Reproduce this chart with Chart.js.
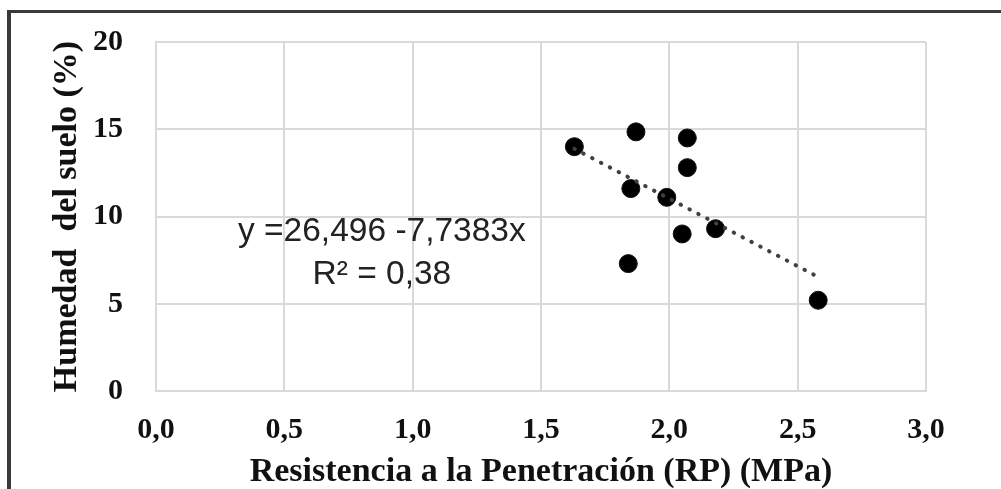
<!DOCTYPE html>
<html>
<head>
<meta charset="utf-8">
<script src="https://cdn.jsdelivr.net/npm/chart.js@4/dist/chart.umd.min.js"></script>
<style>
  html, body { margin: 0; padding: 0; width: 1001px; height: 489px; overflow: hidden; background: #fff; }
  #wrap { position: absolute; left: 0; top: 0; width: 1001px; height: 489px; }
  #frame { position: absolute; left: 7px; top: 10px; width: 2000px; height: 2000px; border: 3px solid #3a3a3a; box-sizing: border-box; border-left-width: 4px; }
  canvas { position: absolute; left: 0; top: 0; }
</style>
</head>
<body>
<div id="wrap">
  <div id="frame"></div>
  <canvas id="c" width="1001" height="489"></canvas>
</div>
<script>
// ---- data ----
const rpValues = [1.63, 1.87, 2.07, 2.07, 1.85, 1.99, 2.05, 2.18, 1.84, 2.58];
const humedadValues = [14.0, 14.85, 14.5, 12.8, 11.6, 11.1, 9.0, 9.3, 7.3, 5.2];
const trendIntercept = 26.496;
const trendSlope = -7.7383;
const xTickValues = [0, 0.5, 1.0, 1.5, 2.0, 2.5, 3.0];
const xTickLabels = ['0,0', '0,5', '1,0', '1,5', '2,0', '2,5', '3,0'];
const yTickValues = [0, 5, 10, 15, 20];
const yTickLabels = ['0', '5', '10', '15', '20'];
const xTitle = 'Resistencia a la Penetración (RP) (MPa)';
const yTitle = 'Humedad  del suelo (%)';
const equationLines = ['y =26,496 -7,7383x', 'R² = 0,38'];
const equationAnchor = [0.88, 9.1];

// trendline endpoints from regression over the data range
const xMin = Math.min(...rpValues), xMax = Math.max(...rpValues);
const trendPoints = [xMin, xMax].map(x => ({ x: x, y: trendIntercept + trendSlope * x }));
const scatterPoints = rpValues.map((x, i) => ({ x: x, y: humedadValues[i] }));

const serif = '"Liberation Serif", "Times New Roman", serif';
const tickFont = { family: serif, size: 30, weight: 'bold', lineHeight: 1.2 };
const titleFont = { family: serif, size: 34, weight: 'bold', lineHeight: 1 };
const gridColor = '#d9d9d9';

const equationPlugin = {
  id: 'equation',
  afterDatasetsDraw(chart) {
    const ctx = chart.ctx;
    const xs = chart.scales.x, ys = chart.scales.y;
    const cx = xs.getPixelForValue(equationAnchor[0]);
    const cy = ys.getPixelForValue(equationAnchor[1]);
    ctx.save();
    ctx.fillStyle = '#222';
    ctx.font = '33.5px "Liberation Sans", Arial, sans-serif';
    ctx.textAlign = 'center';
    ctx.textBaseline = 'middle';
    equationLines.forEach((t, i) => ctx.fillText(t, cx, cy + i * 43));
    ctx.restore();
  }
};

new Chart(document.getElementById('c'), {
  type: 'scatter',
  data: {
    datasets: [
      {
        type: 'line',
        data: trendPoints,
        borderColor: '#404040',
        borderWidth: 4,
        borderDash: [0.5, 9.5],
        borderCapStyle: 'round',
        pointRadius: 0,
        fill: false,
        order: 0
      },
      {
        data: scatterPoints,
        backgroundColor: '#000',
        borderColor: '#111',
        borderWidth: 1,
        pointRadius: 9,
        order: 1
      }
    ]
  },
  options: {
    responsive: false,
    animation: false,
    events: [],
    layout: { padding: { left: 0, right: 75, top: 42, bottom: 0 } },
    plugins: { legend: { display: false }, tooltip: { enabled: false } },
    scales: {
      x: {
        type: 'linear',
        min: 0, max: 3,
        afterBuildTicks(scale) { scale.ticks = xTickValues.map(v => ({ value: v })); },
        afterFit(scale) { scale.height = 98; scale.paddingLeft = 0; scale.paddingRight = 0; },
        grid: { color: gridColor, lineWidth: 2, drawTicks: false },
        border: { color: gridColor, width: 2 },
        ticks: {
          padding: 21,
          color: '#111',
          font: tickFont,
          maxRotation: 0,
          callback: (v) => { const i = xTickValues.indexOf(v); return i >= 0 ? xTickLabels[i] : ''; }
        },
        title: { display: true, text: xTitle, color: '#111', font: titleFont, padding: { top: 0, bottom: 0 } }
      },
      y: {
        type: 'linear',
        min: 0, max: 20,
        afterBuildTicks(scale) { scale.ticks = yTickValues.map(v => ({ value: v })); },
        afterFit(scale) { scale.width = 156; scale.paddingTop = 0; scale.paddingBottom = 0; },
        grid: { color: gridColor, lineWidth: 2, drawTicks: false },
        border: { color: gridColor, width: 2 },
        ticks: {
          padding: 33,
          color: '#111',
          font: tickFont,
          callback: (v) => { const i = yTickValues.indexOf(v); return i >= 0 ? yTickLabels[i] : ''; }
        },
        title: { display: true, text: yTitle, color: '#111', font: titleFont, padding: { top: 50, bottom: 0 } }
      }
    }
  },
  plugins: [equationPlugin]
});
</script>
</body>
</html>
